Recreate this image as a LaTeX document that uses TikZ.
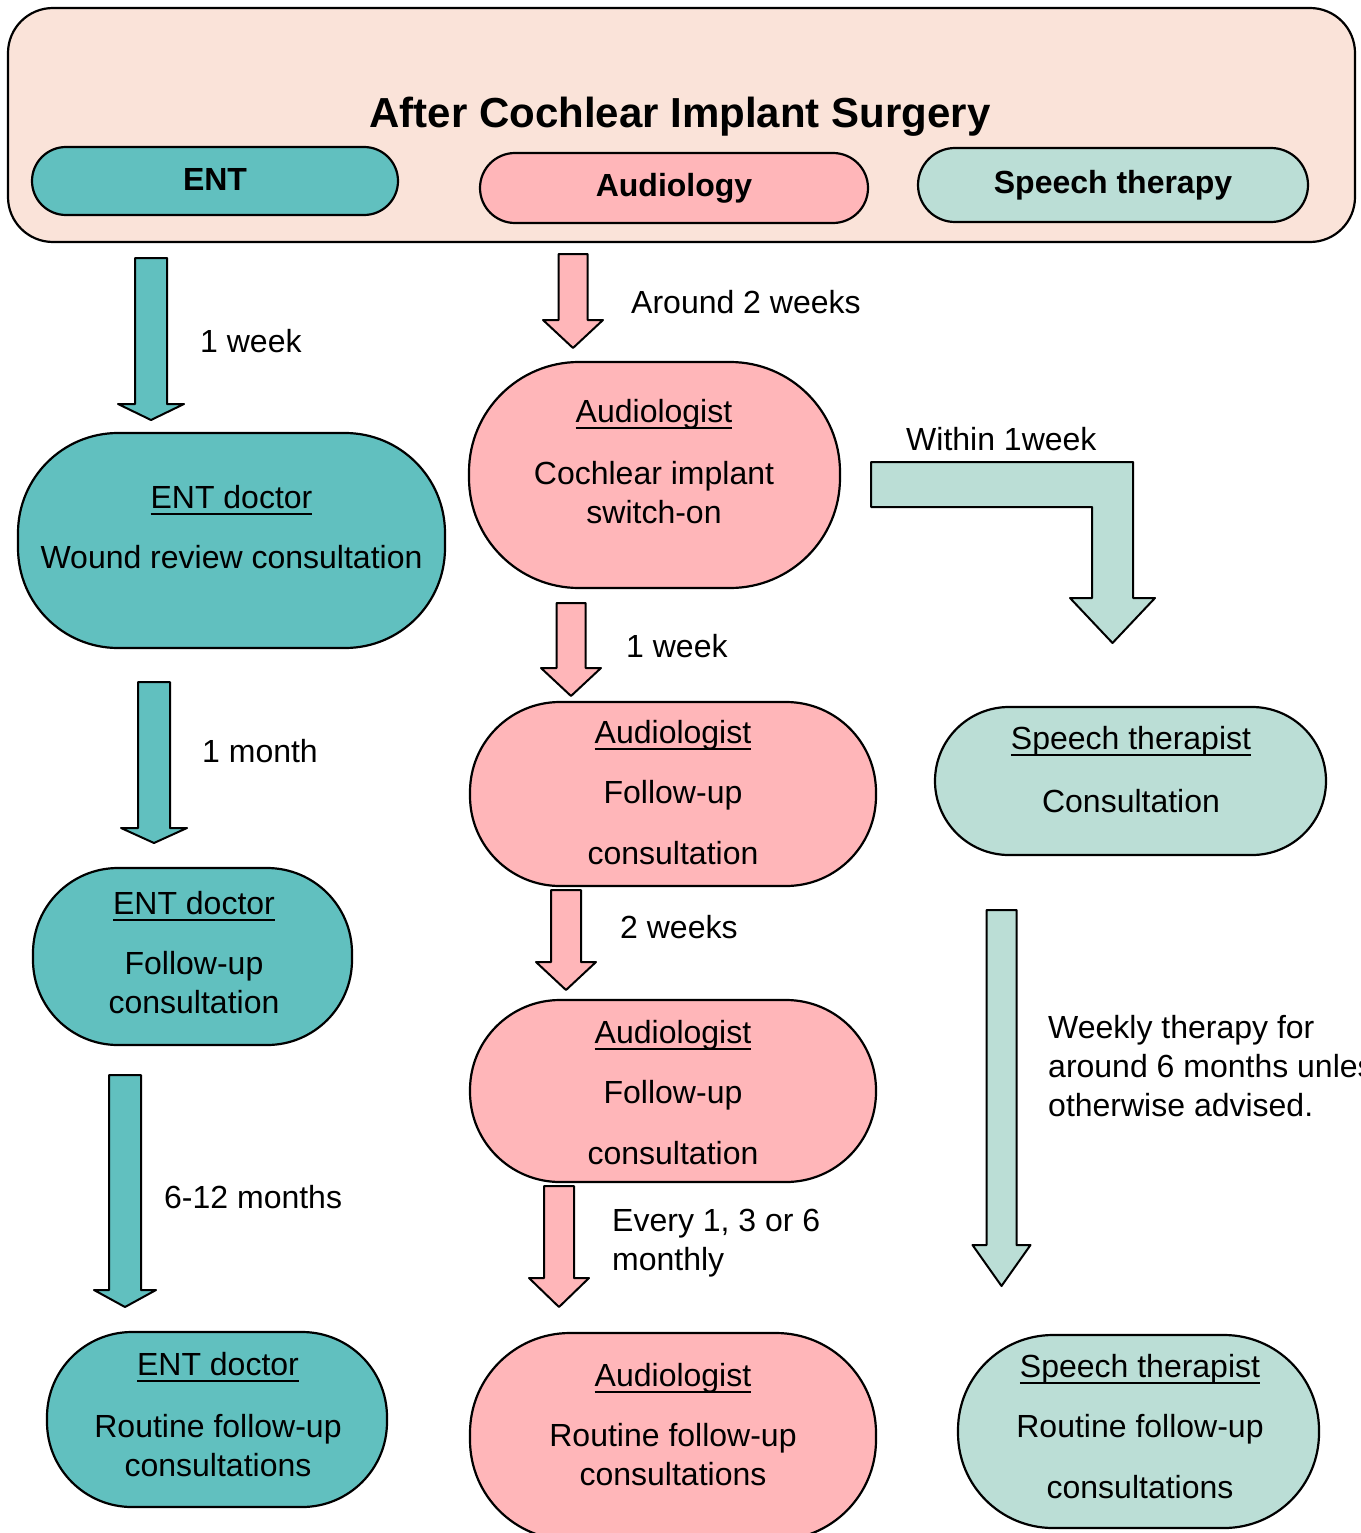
\documentclass[tikz,border=0pt]{standalone}
\usepackage{fontspec}
\setmainfont{Liberation Sans}
\usetikzlibrary{calc}

\definecolor{peach}{HTML}{FAE3D9}
\definecolor{entteal}{HTML}{61C0BF}
\definecolor{audpink}{HTML}{FFB6B9}
\definecolor{speechmint}{HTML}{BBDED6}

\newcommand{\stagefont}{\fontsize{32}{39}\selectfont}
\newcommand{\bannerfont}{\fontsize{42}{50}\selectfont\bfseries}
\newcommand{\pillfont}{\fontsize{32}{39}\selectfont\bfseries}

% underline as in the drawing, a bit heavier than \underline
\newlength{\ulwidth}
\newcommand{\role}[1]{\settowidth{\ulwidth}{#1}\rlap{\rule[-7pt]{\ulwidth}{2.4pt}}#1}

\tikzset{
  stage/.style={draw=black, line width=2.2pt, inner sep=0pt},
  pill/.style={stage, font=\pillfont},
  txt/.style={inner sep=0pt, align=center, anchor=base, font=\stagefont},
  lbl/.style={inner sep=0pt, align=left, anchor=base west, font=\stagefont},
  blockarrow/.style={draw=black, line width=2pt, line join=round}
}

% fill, top, tip, shaft half width, head half width, head length
\newcommand{\blockdown}[6]{%
  \draw[blockarrow, fill=#1] ($(#2)+(-#4,0)$) -- ($(#3)+(-#4,-#6)$) -- ($(#3)+(-#5,-#6)$) -- (#3)
    -- ($(#3)+(#5,-#6)$) -- ($(#3)+(#4,-#6)$) -- ($(#2)+(#4,0)$) -- cycle;}

\begin{document}
\begin{tikzpicture}[x=1pt,y=-1pt]
\useasboundingbox (0,0) rectangle (1360,1533);
\clip (0,0) rectangle (1360,1533);

% header
\node[stage, fill=peach, minimum width=1347pt, minimum height=234pt, rounded corners=45pt] (banner) at (681.5,125) {};
\node[inner sep=0pt, anchor=base, font=\bannerfont] (title) at (680,128) {After Cochlear Implant Surgery};
\node[pill, fill=entteal, minimum width=366pt, minimum height=68pt, rounded corners=34pt] (entHead) at (215,181) {\raisebox{4pt}{ENT}};
\node[pill, fill=audpink, minimum width=388pt, minimum height=70pt, rounded corners=35pt] (audHead) at (674,188) {Audiology};
\node[pill, fill=speechmint, minimum width=390pt, minimum height=74pt, rounded corners=37pt] (spHead) at (1113,185) {\raisebox{3pt}{Speech therapy}};

% ENT column
\node[stage, fill=entteal, minimum width=427pt, minimum height=215pt, rounded corners=100pt] (entWound) at (231.5,540.5) {};
\node[txt] (entWoundTxt) at (231.5,568) {\role{ENT doctor}\\[21pt]Wound review consultation};
\node[stage, fill=entteal, minimum width=319pt, minimum height=177pt, rounded corners=85pt] (entFollow) at (192.5,956.5) {};
\node[txt] (entFollowTxt) at (194,1013) {\role{ENT doctor}\\[21pt]Follow-up\\consultation};
\node[stage, fill=entteal, minimum width=340pt, minimum height=175pt, rounded corners=85pt] (entRoutine) at (217,1419.5) {};
\node[txt] (entRoutineTxt) at (218,1476) {\role{ENT doctor}\\[23pt]Routine follow-up\\consultations};

\coordinate (e1top) at (151,258);  \coordinate (e1tip) at (151,420);
\coordinate (e2top) at (154,682);  \coordinate (e2tip) at (154,843);
\coordinate (e3top) at (125,1075); \coordinate (e3tip) at (125,1307);
\blockdown{entteal}{e1top}{e1tip}{16}{33}{16}
\blockdown{entteal}{e2top}{e2tip}{16}{33}{15}
\blockdown{entteal}{e3top}{e3tip}{16}{31}{17}
\node[lbl] (e1lbl) at (200,352) {1 week};
\node[lbl] (e2lbl) at (202,762) {1 month};
\node[lbl] (e3lbl) at (164,1208) {6-12 months};

% audiology column
\node[stage, fill=audpink, minimum width=371pt, minimum height=226pt, rounded corners=110pt] (audSwitch) at (654.5,475) {};
\node[txt] (audSwitchTxt) at (654,523) {\role{Audiologist}\\[23pt]Cochlear implant\\switch-on};
\node[stage, fill=audpink, minimum width=406pt, minimum height=184pt, rounded corners=90pt] (audFollowA) at (673,794) {};
\node[txt] (audFollowATxt) at (673,864) {\role{Audiologist}\\[21pt]Follow-up\\[22pt]consultation};
\node[stage, fill=audpink, minimum width=406pt, minimum height=182pt, rounded corners=90pt] (audFollowB) at (673,1091) {};
\node[txt] (audFollowBTxt) at (673,1164) {\role{Audiologist}\\[21pt]Follow-up\\[22pt]consultation};
\node[stage, fill=audpink, minimum width=406pt, minimum height=207pt, rounded corners=100pt] (audRoutine) at (673,1436.5) {};
\node[txt] (audRoutineTxt) at (673,1485) {\role{Audiologist}\\[21pt]Routine follow-up\\consultations};

\coordinate (a1top) at (573,254);  \coordinate (a1tip) at (573,348);
\coordinate (a2top) at (571,603);  \coordinate (a2tip) at (571,696);
\coordinate (a3top) at (566,890);  \coordinate (a3tip) at (566,990);
\coordinate (a4top) at (559,1186); \coordinate (a4tip) at (559,1307);
\blockdown{audpink}{a1top}{a1tip}{14.5}{30}{28}
\blockdown{audpink}{a2top}{a2tip}{14.5}{30}{28}
\blockdown{audpink}{a3top}{a3tip}{15}{30}{28}
\blockdown{audpink}{a4top}{a4tip}{15}{30}{29}
\node[lbl] (a1lbl) at (631,313) {Around 2 weeks};
\node[lbl] (a2lbl) at (626,657) {1 week};
\node[lbl] (a3lbl) at (620,938) {2 weeks};
\node[lbl] (a4lbl) at (612,1270) {Every 1, 3 or 6\\monthly};

% speech therapy column
\node[stage, fill=speechmint, minimum width=391pt, minimum height=148pt, rounded corners=74pt] (spConsult) at (1130.5,781) {};
\node[txt] (spConsultTxt) at (1131,812) {\role{Speech therapist}\\[24pt]Consultation};
\node[stage, fill=speechmint, minimum width=361pt, minimum height=193pt, rounded corners=95pt] (spRoutine) at (1138.5,1431.5) {};
\node[txt] (spRoutineTxt) at (1140,1498) {\role{Speech therapist}\\[21pt]Routine follow-up\\[22pt]consultations};

\coordinate (bendTail) at (871,484.5); \coordinate (bendTip) at (1112.5,643);
\draw[blockarrow, fill=speechmint] ($(bendTail)+(0,-22.5)$) -- ($(bendTip)+(20.5,-181)$) -- ($(bendTip)+(20.5,-45)$)
  -- ($(bendTip)+(42.5,-45)$) -- (bendTip) -- ($(bendTip)+(-42.5,-45)$) -- ($(bendTip)+(-20.5,-45)$)
  -- ($(bendTip)+(-20.5,-136)$) -- ($(bendTail)+(0,22.5)$) -- cycle;
\node[lbl] (s1lbl) at (906,450) {Within 1week};

\coordinate (s2top) at (1001.5,910); \coordinate (s2tip) at (1001.5,1286);
\blockdown{speechmint}{s2top}{s2tip}{15}{29}{41}
\node[lbl] (s2lbl) at (1048,1116) {Weekly therapy for\\around 6 months unless\\otherwise advised.};
\end{tikzpicture}
\end{document}
